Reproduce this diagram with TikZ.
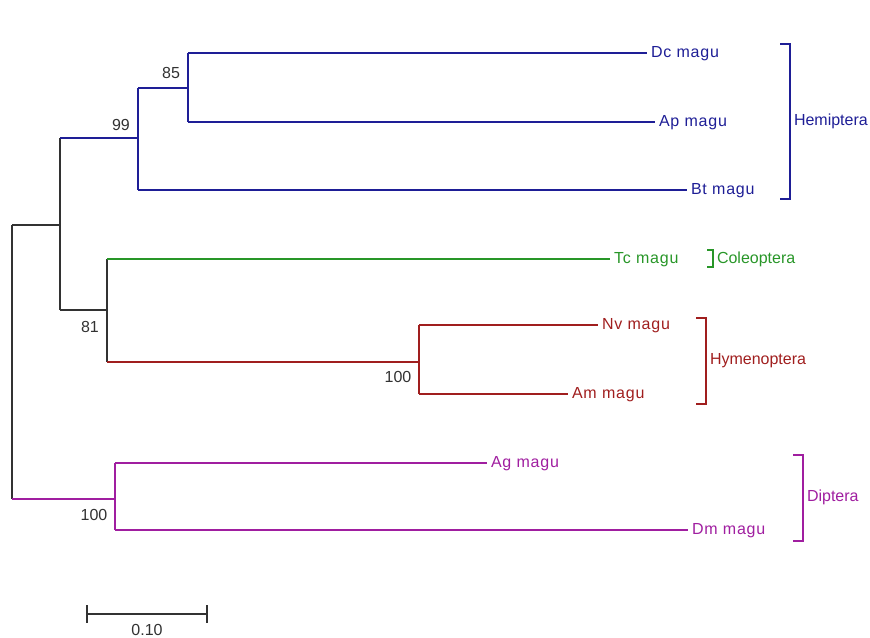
\documentclass[tikz,border=0pt]{standalone}
\usepackage{fontspec}
\setmainfont{Liberation Sans}
\newfontfamily\leaffont[LetterSpace=5]{Liberation Sans}
\definecolor{hemi}{RGB}{30,30,150}
\definecolor{cole}{RGB}{40,150,40}
\definecolor{hyme}{RGB}{160,30,30}
\definecolor{dipt}{RGB}{160,30,160}
\definecolor{trunk}{RGB}{50,50,50}
\begin{document}
\begin{tikzpicture}[x=0.75pt,y=-0.75pt,line width=1.1pt,
  font=\fontsize{12}{14}\selectfont,
  leaf/.style={anchor=west,inner xsep=0pt,inner ysep=0pt,outer xsep=3pt,
    text height=8.6pt,text depth=2.4pt,font=\leaffont\fontsize{12}{14}\selectfont},
  grp/.style={anchor=west,inner xsep=0pt,outer xsep=3pt},
  boot/.style={text=trunk,inner sep=0pt},
  bracket/.style={line width=1.1pt}]
\useasboundingbox (0,0) rectangle (870,638);

% internal nodes of the tree
\coordinate (root) at (12,361);
\coordinate (nA)   at (60,225);
\coordinate (n99)  at (138,138);
\coordinate (n85)  at (188,88);
\coordinate (n81)  at (107,310);
\coordinate (nHy)  at (419,362);
\coordinate (nDi)  at (115,499);

% leaves
\node[leaf,text=hemi] (dc) at (647,53)  {Dc magu};
\node[leaf,text=hemi] (ap) at (655,122) {Ap magu};
\node[leaf,text=hemi] (bt) at (687,190) {Bt magu};
\node[leaf,text=cole] (tc) at (610,259) {Tc magu};
\node[leaf,text=hyme] (nv) at (598,325) {Nv magu};
\node[leaf,text=hyme] (am) at (568,394) {Am magu};
\node[leaf,text=dipt] (ag) at (487,463) {Ag magu};
\node[leaf,text=dipt] (dm) at (688,530) {Dm magu};

% backbone (uncoloured verticals)
\draw[trunk] (root |- nA) -- (root |- nDi);
\draw[trunk] (root |- nA) -- (nA);
\draw[trunk] (nA |- n99) -- (nA |- n81);
\draw[trunk] (nA |- n81) -- (n81);
\draw[trunk] (n81 |- tc.west) -- (n81 |- nHy);

% Hemiptera
\draw[hemi] (nA |- n99) -- (n99);
\draw[hemi] (n99 |- n85) -- (n99 |- bt.west);
\draw[hemi] (n99 |- n85) -- (n85);
\draw[hemi] (n99 |- bt.west) -- (bt.west);
\draw[hemi] (n85 |- dc.west) -- (n85 |- ap.west);
\draw[hemi] (n85 |- dc.west) -- (dc.west);
\draw[hemi] (n85 |- ap.west) -- (ap.west);

% Coleoptera
\draw[cole] (n81 |- tc.west) -- (tc.west);

% Hymenoptera
\draw[hyme] (n81 |- nHy) -- (nHy);
\draw[hyme] (nHy |- nv.west) -- (nHy |- am.west);
\draw[hyme] (nHy |- nv.west) -- (nv.west);
\draw[hyme] (nHy |- am.west) -- (am.west);

% Diptera
\draw[dipt] (root |- nDi) -- (nDi);
\draw[dipt] (nDi |- ag.west) -- (nDi |- dm.west);
\draw[dipt] (nDi |- ag.west) -- (ag.west);
\draw[dipt] (nDi |- dm.west) -- (dm.west);

% bootstrap values
\node[boot] (b85)  at (171,73)  {85};
\node[boot] (b99)  at (121,125) {99};
\node[boot] (b81)  at (90,327)  {81};
\node[boot] (b100h) at (398,377) {100};
\node[boot] (b100d) at (94,515) {100};

% order brackets
\draw[bracket,hemi] (780,44) -- (790,44) -- (790,199) -- (780,199);
\node[grp,text=hemi] (gHe) at (790,121) {Hemiptera};
\draw[bracket,cole] (707,250) -- (713,250) -- (713,267) -- (707,267);
\node[grp,text=cole] (gCo) at (713,259) {Coleoptera};
\draw[bracket,hyme] (696,318) -- (706,318) -- (706,404) -- (696,404);
\node[grp,text=hyme] (gHy) at (706,361) {Hymenoptera};
\draw[bracket,dipt] (793,455) -- (803,455) -- (803,541) -- (793,541);
\node[grp,text=dipt] (gDi) at (803,497) {Diptera};

% scale bar
\coordinate (sbL) at (87,614);
\coordinate (sbR) at (207,614);
\draw[trunk] (sbL) -- (sbR);
\draw[trunk] ([yshift=-6.5]sbL) -- ([yshift=6.5]sbL);
\draw[trunk] ([yshift=-6.5]sbR) -- ([yshift=6.5]sbR);
\node[boot] (sbT) at (147,630) {0.10};
\end{tikzpicture}
\end{document}
